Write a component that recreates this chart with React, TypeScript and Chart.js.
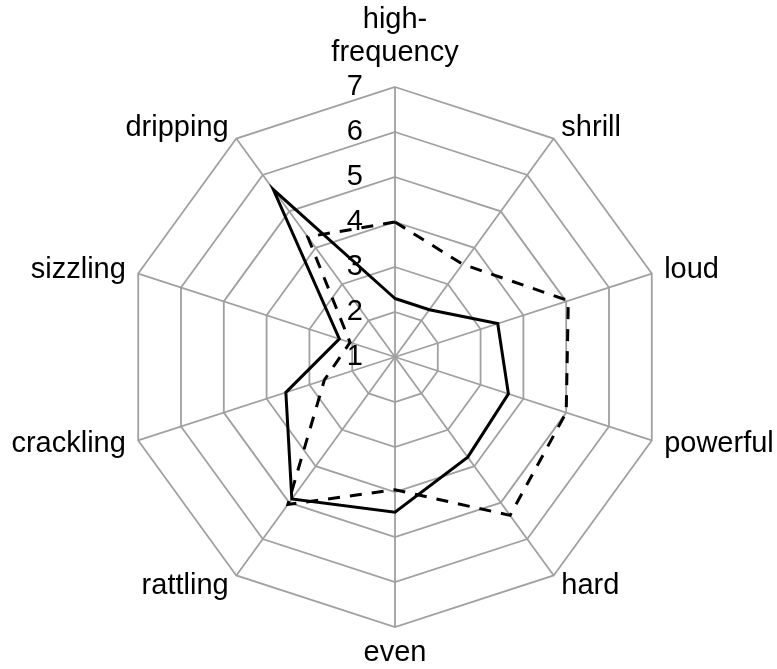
import React, { useEffect, useRef } from "react";
import { Chart, registerables } from "chart.js";

Chart.register(...registerables);

const categories: (string | string[])[] = [
  ["high-", "frequency"],
  "shrill",
  "loud",
  "powerful",
  "hard",
  "even",
  "rattling",
  "crackling",
  "sizzling",
  "dripping",
];

const solidSeries = [2.3, 2.3, 3.4, 3.65, 3.75, 4.45, 4.9, 3.55, 2.3, 5.6];
const dashedSeries = [4.0, 3.55, 5.05, 5.0, 5.35, 3.95, 5.05, 2.65, 2.05, 4.3];

const tickLabels = ["1", "2", "3", "4", "5", "6", "7"];

const FONT = '29px "Liberation Sans", Arial, Helvetica, sans-serif';

const labelPlugin = {
  id: "customLabels",
  afterDraw(chart: any) {
    const scale = chart.scales.r;
    const ctx = chart.ctx;
    ctx.save();
    ctx.font = FONT;
    ctx.fillStyle = "#000";

    // tick labels
    ctx.textAlign = "right";
    ctx.textBaseline = "middle";
    tickLabels.forEach((t) => {
      const v = Number(t);
      const d = scale.getDistanceFromCenterForValue(v);
      ctx.fillText(t, scale.xCenter - 32, scale.yCenter - d);
    });

    // point labels
    const labels = chart.data.labels as (string | string[])[];
    const n = labels.length;
    const outer = scale.drawingArea;
    for (let i = 0; i < n; i++) {
      const lbl = labels[i];
      const lines = Array.isArray(lbl) ? lbl : [lbl];
      const deg = Math.round((i * 360) / n) % 360;
      const vertex = scale.getPointPosition(i, outer);
      const p = scale.getPointPosition(i, outer + 13);
      ctx.textBaseline = "middle";
      if (deg === 0) {
        ctx.textAlign = "center";
        let y = vertex.y - 34;
        for (let k = lines.length - 1; k >= 0; k--) {
          ctx.fillText(lines[k], vertex.x, y);
          y -= 33;
        }
      } else if (deg === 180) {
        ctx.textAlign = "center";
        let y = vertex.y + 26;
        for (let k = 0; k < lines.length; k++) {
          ctx.fillText(lines[k], vertex.x, y);
          y += 33;
        }
      } else {
        ctx.textAlign = deg < 180 ? "left" : "right";
        ctx.fillText(lines.join(" "), p.x, p.y);
      }
    }
    ctx.restore();
  },
};

export default function App() {
  const ref = useRef<HTMLCanvasElement | null>(null);

  useEffect(() => {
    document.body.style.margin = "0";
    if (!ref.current) return;
    const chart = new Chart(ref.current, {
      type: "radar",
      data: {
        labels: categories as any,
        datasets: [
          {
            data: solidSeries,
            borderColor: "#000",
            borderWidth: 3,
            fill: false,
            pointRadius: 0,
            tension: 0,
          },
          {
            data: dashedSeries,
            borderColor: "#000",
            borderWidth: 3,
            borderDash: [12, 10],
            fill: false,
            pointRadius: 0,
            tension: 0,
          },
        ],
      },
      options: {
        responsive: false,
        maintainAspectRatio: false,
        animation: false,
        devicePixelRatio: 1,
        layout: { padding: { left: 125, right: 112, top: 87, bottom: 42 } },
        plugins: {
          legend: { display: false },
          tooltip: { enabled: false },
        },
        scales: {
          r: {
            min: 1,
            max: 7,
            ticks: { stepSize: 1, display: false },
            pointLabels: { display: false },
            grid: { color: "#a0a0a0", lineWidth: 1.8 },
            angleLines: { color: "#a0a0a0", lineWidth: 1.8 },
          },
        },
      },
      plugins: [labelPlugin],
    });
    return () => chart.destroy();
  }, []);

  return (
    <div style={{ width: 777, height: 669, background: "#fff" }}>
      <canvas ref={ref} width={777} height={669} style={{ display: "block" }} />
    </div>
  );
}
